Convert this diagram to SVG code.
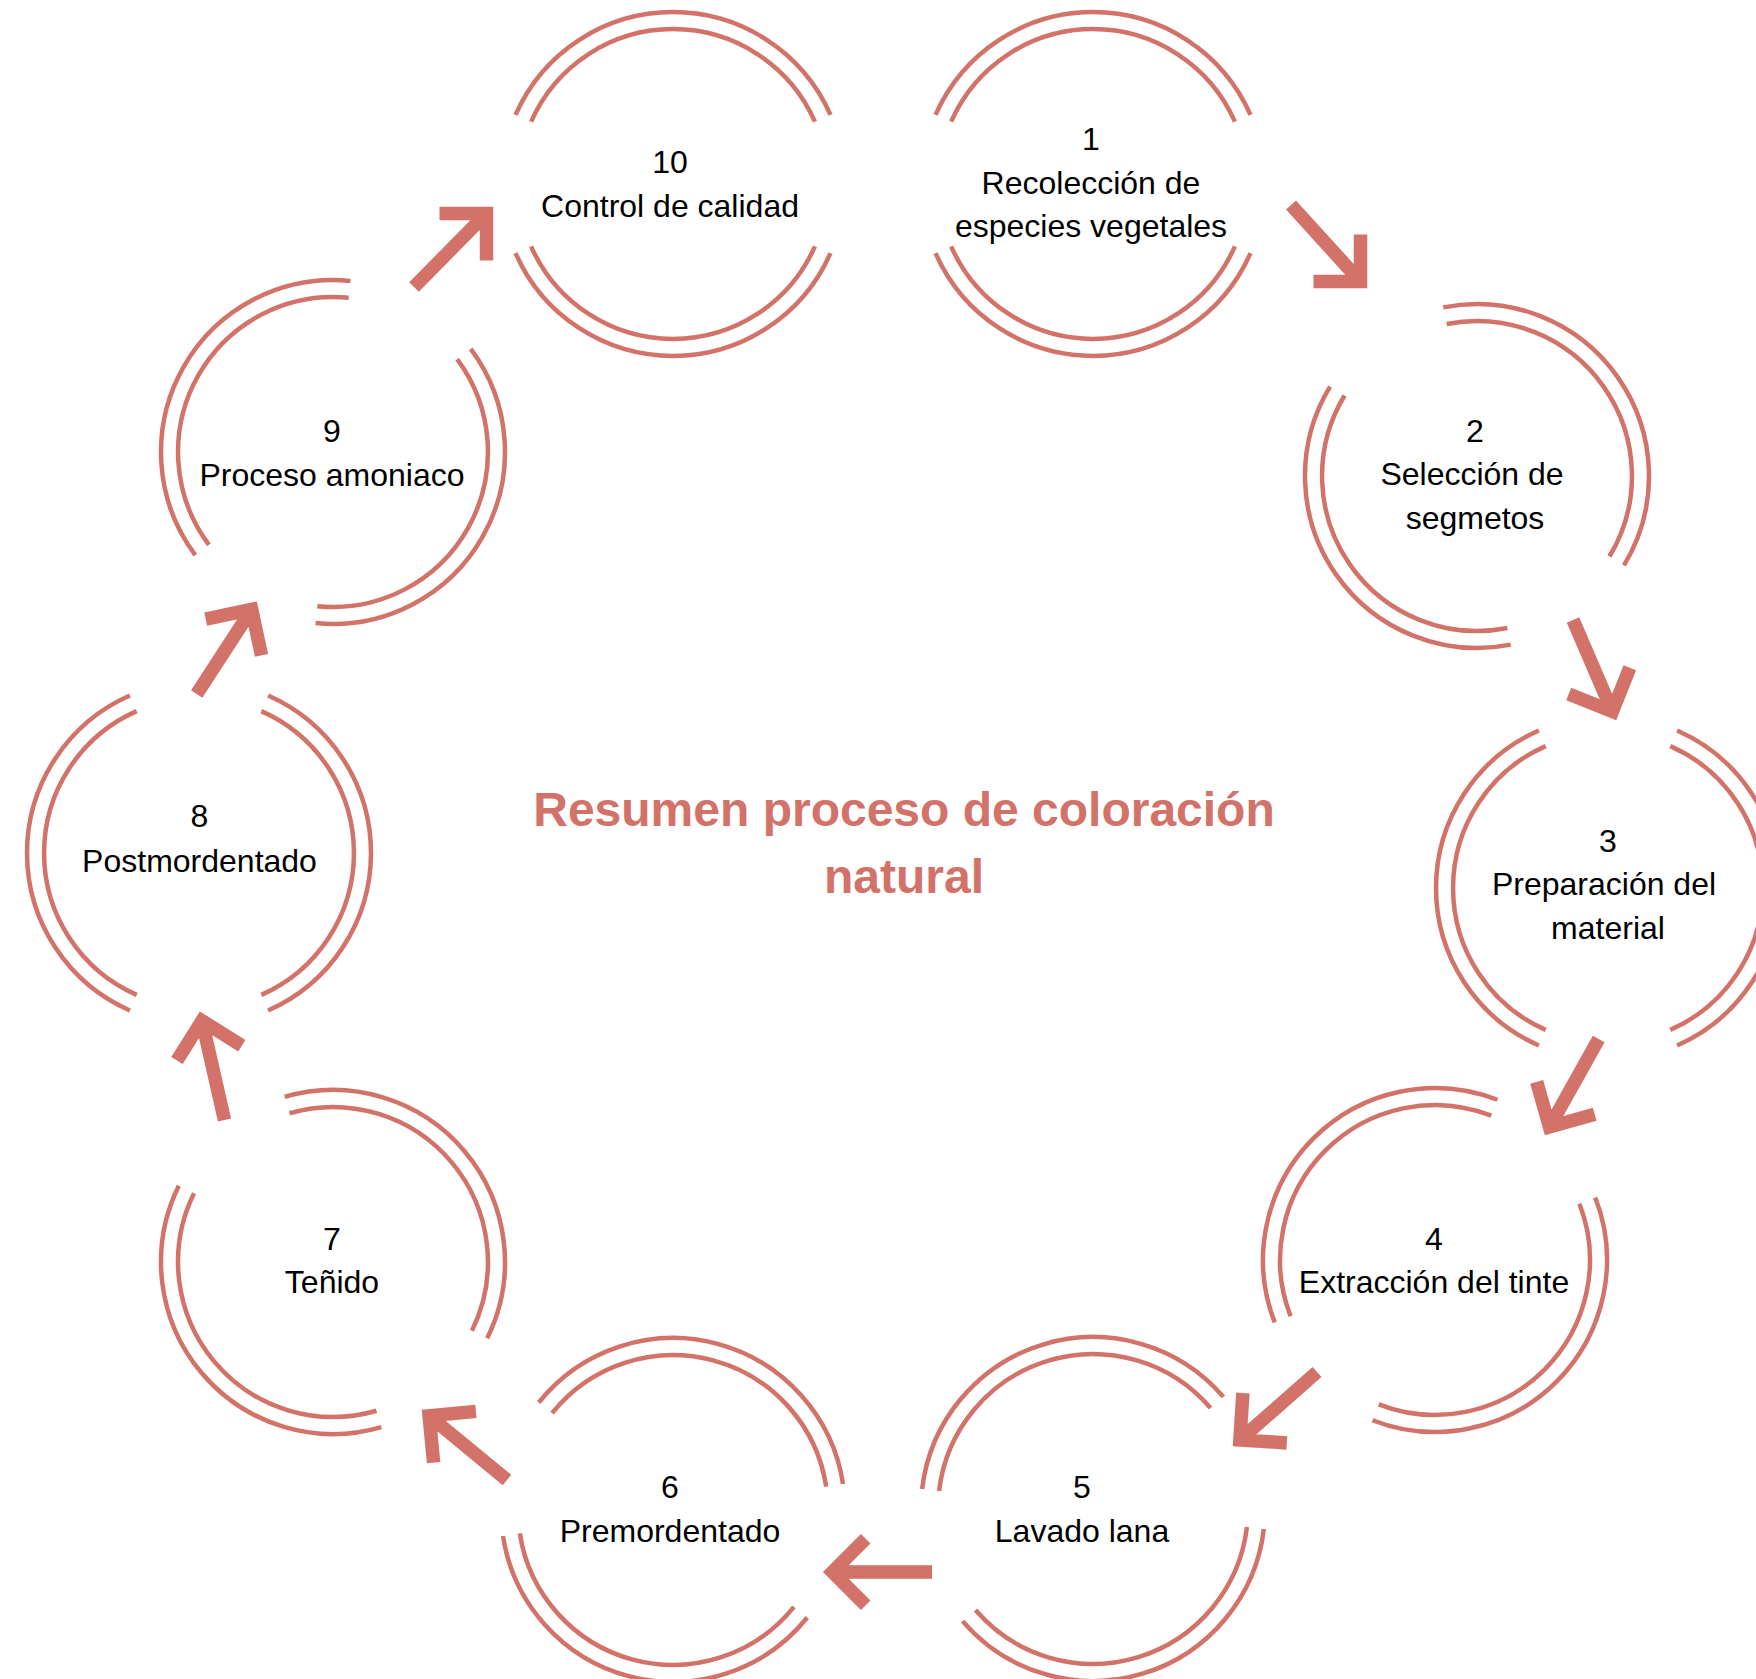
<svg xmlns="http://www.w3.org/2000/svg" xmlns:xlink="http://www.w3.org/1999/xlink" width="1756" height="1679" viewBox="0 0 1756 1679">
<style>
.ring path{fill:none;stroke:#d27268;stroke-width:4.5;stroke-linecap:butt}
.arrow{fill:none;stroke:#d27268;stroke-width:13.5;stroke-linecap:butt;stroke-linejoin:miter;stroke-miterlimit:10}
.lbl{font-family:"Liberation Sans",Arial,sans-serif;font-size:32px;fill:#000;text-anchor:middle}
.title{font-family:"Liberation Sans",Arial,sans-serif;font-size:48px;font-weight:bold;fill:#d27268;text-anchor:middle}
</style>
<defs>
<g id="ring" class="ring">
<path d="M157.5 69.1 A172 172 0 0 1 -157.5 69.1"/>
<path d="M-157.5 -69.1 A172 172 0 0 1 157.5 -69.1"/>
<path d="M141.9 62.3 A155 155 0 0 1 -141.9 62.3"/>
<path d="M-141.9 -62.3 A155 155 0 0 1 141.9 -62.3"/>
</g>
</defs>
<rect width="1756" height="1679" fill="#fff"/>
<g id="connectors">
<path class="arrow" d="M1291 205 L1360.5 281.5 M1313.5 281.5 L1360.5 281.5 L1360.5 234.5"/>
<path class="arrow" d="M1573 620 L1612.4 711.5 M1568.7 694.1 L1612.4 711.5 L1629.8 667.8"/>
<path class="arrow" d="M1598.7 1039 L1549.5 1127 M1536.7 1081.8 L1549.5 1127 L1594.7 1114.2"/>
<path class="arrow" d="M1317 1372 L1239.9 1439.9 M1242.9 1393 L1239.9 1439.9 L1286.8 1442.9"/>
<path class="arrow" d="M932 1572 L832.5 1572 M865.7 1538.8 L832.5 1572 L865.7 1605.2"/>
<path class="arrow" d="M507 1480 L429.1 1415.9 M475.9 1411.4 L429.1 1415.9 L433.6 1462.7"/>
<path class="arrow" d="M224.5 1120 L202 1020.7 M241.8 1045.7 L202 1020.7 L177 1060.5"/>
<path class="arrow" d="M196.7 694 L251.7 609.4 M261.5 655.4 L251.7 609.4 L205.7 619.2"/>
<path class="arrow" d="M414 287 L486.5 213.5 M439.5 213.5 L486.5 213.5 L486.5 260.5"/>
</g>
<g id="node1">
<use xlink:href="#ring" href="#ring" transform="translate(1093 184)"/>
<text class="lbl" x="1091" y="150">1</text>
<text class="lbl" x="1091" y="194">Recolección de</text>
<text class="lbl" x="1091" y="237">especies vegetales</text>
</g>
<g id="node2">
<use xlink:href="#ring" href="#ring" transform="translate(1477 476) rotate(55)"/>
<text class="lbl" x="1475" y="442">2</text>
<text class="lbl" x="1472" y="485">Selección de</text>
<text class="lbl" x="1475" y="529">segmetos</text>
</g>
<g id="node3">
<use xlink:href="#ring" href="#ring" transform="translate(1608 888) rotate(90)"/>
<text class="lbl" x="1608" y="852">3</text>
<text class="lbl" x="1604" y="895">Preparación del</text>
<text class="lbl" x="1608" y="939">material</text>
</g>
<g id="node4">
<use xlink:href="#ring" href="#ring" transform="translate(1435 1260) rotate(135)"/>
<text class="lbl" x="1434" y="1250">4</text>
<text class="lbl" x="1434" y="1293">Extracción del tinte</text>
</g>
<g id="node5">
<use xlink:href="#ring" href="#ring" transform="translate(1093 1509) rotate(-17)"/>
<text class="lbl" x="1082" y="1498">5</text>
<text class="lbl" x="1082" y="1542">Lavado lana</text>
</g>
<g id="node6">
<use xlink:href="#ring" href="#ring" transform="translate(673 1510) rotate(15)"/>
<text class="lbl" x="670" y="1498">6</text>
<text class="lbl" x="670" y="1542">Premordentado</text>
</g>
<g id="node7">
<use xlink:href="#ring" href="#ring" transform="translate(333 1262) rotate(50)"/>
<text class="lbl" x="332" y="1250">7</text>
<text class="lbl" x="332" y="1293">Teñido</text>
</g>
<g id="node8">
<use xlink:href="#ring" href="#ring" transform="translate(199 853) rotate(90)"/>
<text class="lbl" x="199.5" y="827">8</text>
<text class="lbl" x="199.5" y="872">Postmordentado</text>
</g>
<g id="node9">
<use xlink:href="#ring" href="#ring" transform="translate(333 452) rotate(119.5)"/>
<text class="lbl" x="332" y="442">9</text>
<text class="lbl" x="332" y="486">Proceso amoniaco</text>
</g>
<g id="node10">
<use xlink:href="#ring" href="#ring" transform="translate(673 184)"/>
<text class="lbl" x="670" y="173">10</text>
<text class="lbl" x="670" y="217">Control de calidad</text>
</g>
<g id="title">
<text class="title" x="904" y="826">Resumen proceso de coloración</text>
<text class="title" x="904" y="893">natural</text>
</g>
</svg>
